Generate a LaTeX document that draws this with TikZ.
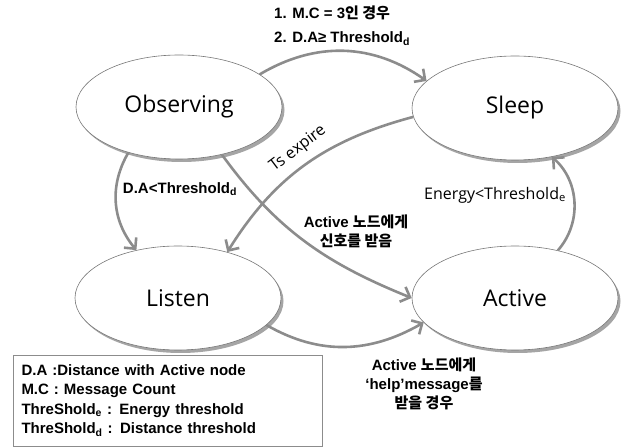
\documentclass[tikz,border=0pt]{standalone}
\usepackage{fontspec}
\setmainfont{Liberation Sans}
\newfontfamily\kr{Noto Sans CJK KR}
\newfontfamily\stfont{Open Sans}
\usetikzlibrary{positioning, arrows.meta, shapes.geometric, shadows}
\definecolor{linegray}{RGB}{140,140,140}
\definecolor{edgegray}{RGB}{120,120,120}
\definecolor{shadegray}{RGB}{165,165,165}

\begin{document}
\begin{tikzpicture}[
  x=1pt, y=1pt,
  state/.style={ellipse, draw=edgegray, line width=0.6pt, fill=white,
               minimum width=206pt, minimum height=104pt,
               font=\stfont\fontsize{23}{27}\selectfont,
               drop shadow={shadow xshift=2.5pt, shadow yshift=-3pt, fill=shadegray, opacity=1}},
  flow/.style={-{Straight Barb[length=8pt, width=16pt]}, line width=2.6pt, linegray},
  lbl/.style={font=\bfseries\fontsize{15}{19}\selectfont, align=center, inner sep=0pt},
  note/.style={font=\stfont\fontsize{16}{19}\selectfont, inner sep=0pt},
  keybox/.style={draw=linegray, line width=0.8pt, minimum width=309pt, minimum height=91pt,
                text width=292pt, align=left, inner xsep=8pt,
                font=\bfseries\fontsize{15}{19.5}\selectfont}
]
  \useasboundingbox (0,0) rectangle (622,447);

  % states
  \node[state] (obs) at (179,340) {Observing};
  \node[state] (slp) at (515,339) {Sleep};
  \node[state] (lis) at (178,149) {Listen};
  \node[state] (act) at (515,149) {Active};

  % transitions
  \draw[flow] (obs.22) to[bend left=33] (slp.163);
  \draw[flow] (obs.222) to[bend right=35] (lis.131);
  \draw[flow] (obs.312) to[out=-54, in=158] (act.180);
  \draw[flow] (slp.185) to[out=195, in=58] (lis.43);
  \draw[flow] (act.48) to[bend right=45] (slp.307);
  \draw[flow] (lis.-17) to[out=-30, in=210] (act.195);

  % labels
  \node[lbl, align=left, anchor=west] (cond) at (274,421)
    {1. M.C = 3{\kr 인 경우}\\[5pt]2. D.A≥ Threshold\textsubscript{d}};
  \node[lbl] (dalt) at (180,258) {D.A<Threshold\textsubscript{d}};
  \node[lbl] (sig) at (356,216) {Active {\kr 노드에게}\\{\kr 신호를 받음}};
  \node[note, rotate=37] (ts) at (298,298) {Ts expire};
  \node[note] (eng) at (495,252) {Energy<Threshold\textsubscript{e}};
  \node[lbl] (help) at (424,63)
    {Active {\kr 노드에게}\\‘help’message{\kr 를}\\{\kr 받을 경우}};

  % legend
  \node[keybox] (key) at (167.5,46.5)
    {D.A :Distance with Active node\\
     M.C : Message Count\\
     ThreShold\textsubscript{e} : Energy threshold\\
     ThreShold\textsubscript{d} : Distance threshold};
\end{tikzpicture}
\end{document}
